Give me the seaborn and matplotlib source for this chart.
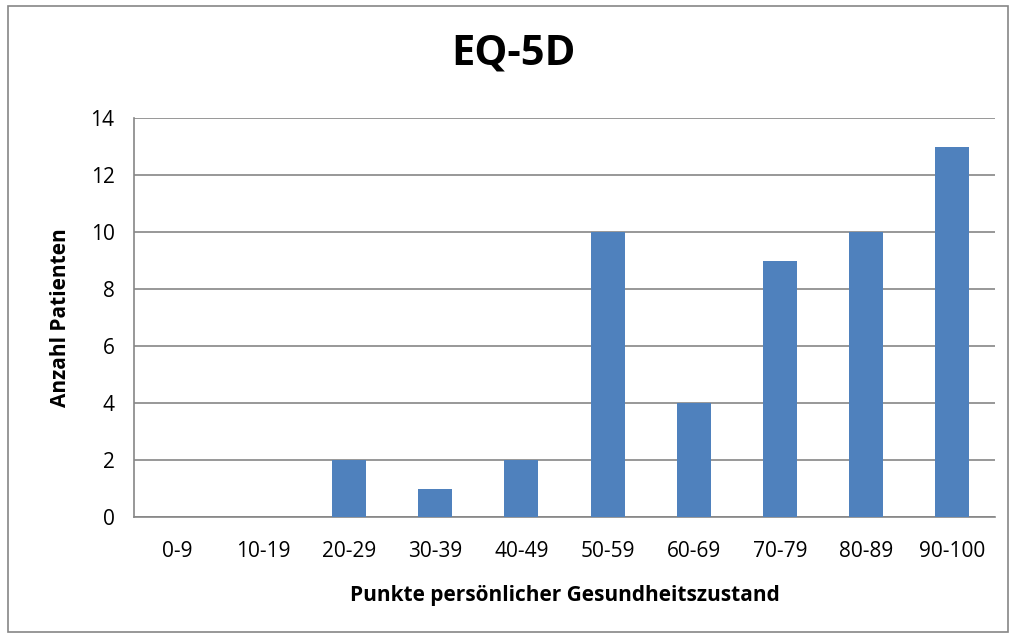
import matplotlib
matplotlib.use("Agg")
import matplotlib.pyplot as plt
import seaborn as sns
import pandas as pd
from matplotlib.patches import Rectangle

categories = ["0-9", "10-19", "20-29", "30-39", "40-49",
              "50-59", "60-69", "70-79", "80-89", "90-100"]
counts = [0, 0, 2, 1, 2, 10, 4, 9, 10, 13]
y_ticks = [0, 2, 4, 6, 8, 10, 12, 14]

title = "EQ-5D"
x_label = "Punkte persönlicher Gesundheitszustand"
y_label = "Anzahl Patienten"

sns.set_style("white")
plt.rcParams["font.family"] = ["Open Sans", "DejaVu Sans"]
plt.rcParams["text.color"] = "black"
plt.rcParams["axes.labelcolor"] = "black"
plt.rcParams["xtick.labelcolor"] = "black"
plt.rcParams["ytick.labelcolor"] = "black"

df = pd.DataFrame({"Kategorie": categories, "Anzahl": counts})

W, H = 1011, 637
fig = plt.figure(figsize=(W / 100, H / 100), dpi=100)
ax = fig.add_axes([134 / W, 1 - 517 / H, (995 - 134) / W, (517 - 118) / H])

sns.barplot(data=df, x="Kategorie", y="Anzahl", color="#4F81BD",
            width=0.395, saturation=1, linewidth=0, ax=ax, zorder=3)

ax.set_ylim(0, 14)
ax.set_xlim(-0.5, len(categories) - 0.5)
ax.set_yticks(y_ticks)
ax.yaxis.grid(True, color="#868686", linewidth=1.2, zorder=0)
ax.set_axisbelow(True)

for side in ["top", "right"]:
    ax.spines[side].set_visible(False)
for side in ["left", "bottom"]:
    ax.spines[side].set_color("#868686")
    ax.spines[side].set_linewidth(1.2)

ax.tick_params(axis="y", length=8, width=1.2, color="#868686", labelsize=15, pad=6)
ax.tick_params(axis="x", length=0, labelsize=15, pad=17)

ax.set_xlabel(x_label, fontsize=15, fontweight="bold", labelpad=17)
ax.set_ylabel(y_label, fontsize=15, fontweight="bold", labelpad=14)
fig.text(513 / W, 1 - 54 / H, title, fontsize=30, fontweight="bold",
         ha="center", va="center")

fig.patches.append(Rectangle((8 / W, 5 / H), (1000) / W, (626) / H,
                             transform=fig.transFigure, fill=False,
                             edgecolor="#868686", linewidth=1.2))

fig.savefig("out.png", dpi=100)
